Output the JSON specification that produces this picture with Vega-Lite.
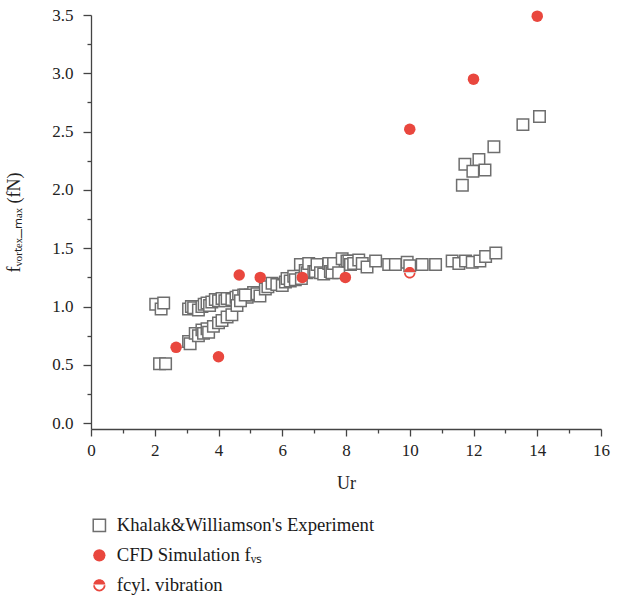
{
  "$schema": "https://vega.github.io/schema/vega-lite/v6.json",
  "width": 510,
  "height": 414,
  "autosize": {"type": "none"},
  "padding": {"left": 91, "top": 15, "right": 23, "bottom": 172},
  "background": "white",
  "config": {
    "view": {"stroke": null},
    "font": "Liberation Serif",
    "axis": {
      "grid": false,
      "domainColor": "#444444",
      "tickColor": "#444444",
      "labelColor": "#222222",
      "titleColor": "#222222",
      "labelFont": "Liberation Serif",
      "titleFont": "Liberation Serif",
      "labelFontSize": 17,
      "titleFontSize": 18,
      "titleFontWeight": "normal",
      "domainWidth": 1.3,
      "tickWidth": 1.3
    },
    "legend": {
      "orient": "none",
      "legendX": -1,
      "legendY": 501,
      "padding": 0,
      "labelFont": "Liberation Serif",
      "labelFontSize": 18.7,
      "labelColor": "#1a1a1a",
      "labelLimit": 400,
      "symbolSize": 150,
      "rowPadding": 10,
      "labelOffset": 8,
      "symbolStrokeWidth": 1.5
    }
  },
  "data": {
    "values": [
      {"x": 2.03, "y": 1.02, "s": "Khalak&Williamson's Experiment"},
      {"x": 2.2, "y": 0.98, "s": "Khalak&Williamson's Experiment"},
      {"x": 2.28, "y": 1.03, "s": "Khalak&Williamson's Experiment"},
      {"x": 2.15, "y": 0.51, "s": "Khalak&Williamson's Experiment"},
      {"x": 2.34, "y": 0.51, "s": "Khalak&Williamson's Experiment"},
      {"x": 3.06, "y": 0.98, "s": "Khalak&Williamson's Experiment"},
      {"x": 3.15, "y": 1.0, "s": "Khalak&Williamson's Experiment"},
      {"x": 3.22, "y": 0.99, "s": "Khalak&Williamson's Experiment"},
      {"x": 3.37, "y": 0.97, "s": "Khalak&Williamson's Experiment"},
      {"x": 3.48, "y": 1.0, "s": "Khalak&Williamson's Experiment"},
      {"x": 3.55, "y": 1.02, "s": "Khalak&Williamson's Experiment"},
      {"x": 3.64, "y": 1.03, "s": "Khalak&Williamson's Experiment"},
      {"x": 3.72, "y": 1.01, "s": "Khalak&Williamson's Experiment"},
      {"x": 3.79, "y": 1.04, "s": "Khalak&Williamson's Experiment"},
      {"x": 3.9, "y": 1.06, "s": "Khalak&Williamson's Experiment"},
      {"x": 4.0, "y": 1.05, "s": "Khalak&Williamson's Experiment"},
      {"x": 4.11, "y": 1.07, "s": "Khalak&Williamson's Experiment"},
      {"x": 4.2, "y": 1.05, "s": "Khalak&Williamson's Experiment"},
      {"x": 4.27, "y": 1.07, "s": "Khalak&Williamson's Experiment"},
      {"x": 4.42, "y": 1.06, "s": "Khalak&Williamson's Experiment"},
      {"x": 4.55, "y": 1.08, "s": "Khalak&Williamson's Experiment"},
      {"x": 4.63, "y": 1.09, "s": "Khalak&Williamson's Experiment"},
      {"x": 4.79, "y": 1.1, "s": "Khalak&Williamson's Experiment"},
      {"x": 4.9, "y": 1.08, "s": "Khalak&Williamson's Experiment"},
      {"x": 5.0, "y": 1.1, "s": "Khalak&Williamson's Experiment"},
      {"x": 5.1, "y": 1.12, "s": "Khalak&Williamson's Experiment"},
      {"x": 5.21, "y": 1.11, "s": "Khalak&Williamson's Experiment"},
      {"x": 5.3, "y": 1.09, "s": "Khalak&Williamson's Experiment"},
      {"x": 5.47, "y": 1.15, "s": "Khalak&Williamson's Experiment"},
      {"x": 5.55, "y": 1.17, "s": "Khalak&Williamson's Experiment"},
      {"x": 5.68, "y": 1.2, "s": "Khalak&Williamson's Experiment"},
      {"x": 5.83, "y": 1.19, "s": "Khalak&Williamson's Experiment"},
      {"x": 6.0, "y": 1.18, "s": "Khalak&Williamson's Experiment"},
      {"x": 6.1, "y": 1.21, "s": "Khalak&Williamson's Experiment"},
      {"x": 6.15, "y": 1.24, "s": "Khalak&Williamson's Experiment"},
      {"x": 6.25, "y": 1.22, "s": "Khalak&Williamson's Experiment"},
      {"x": 6.36, "y": 1.26, "s": "Khalak&Williamson's Experiment"},
      {"x": 6.41, "y": 1.23, "s": "Khalak&Williamson's Experiment"},
      {"x": 6.57, "y": 1.36, "s": "Khalak&Williamson's Experiment"},
      {"x": 6.6, "y": 1.24, "s": "Khalak&Williamson's Experiment"},
      {"x": 6.72, "y": 1.31, "s": "Khalak&Williamson's Experiment"},
      {"x": 6.78, "y": 1.29, "s": "Khalak&Williamson's Experiment"},
      {"x": 6.83, "y": 1.37, "s": "Khalak&Williamson's Experiment"},
      {"x": 6.99, "y": 1.3, "s": "Khalak&Williamson's Experiment"},
      {"x": 7.04, "y": 1.3, "s": "Khalak&Williamson's Experiment"},
      {"x": 7.09, "y": 1.36, "s": "Khalak&Williamson's Experiment"},
      {"x": 7.2, "y": 1.29, "s": "Khalak&Williamson's Experiment"},
      {"x": 7.3, "y": 1.28, "s": "Khalak&Williamson's Experiment"},
      {"x": 7.46, "y": 1.37, "s": "Khalak&Williamson's Experiment"},
      {"x": 7.51, "y": 1.3, "s": "Khalak&Williamson's Experiment"},
      {"x": 7.56, "y": 1.29, "s": "Khalak&Williamson's Experiment"},
      {"x": 7.61, "y": 1.37, "s": "Khalak&Williamson's Experiment"},
      {"x": 7.77, "y": 1.29, "s": "Khalak&Williamson's Experiment"},
      {"x": 7.88, "y": 1.41, "s": "Khalak&Williamson's Experiment"},
      {"x": 8.03, "y": 1.39, "s": "Khalak&Williamson's Experiment"},
      {"x": 8.09, "y": 1.39, "s": "Khalak&Williamson's Experiment"},
      {"x": 8.14, "y": 1.36, "s": "Khalak&Williamson's Experiment"},
      {"x": 8.24, "y": 1.37, "s": "Khalak&Williamson's Experiment"},
      {"x": 8.4, "y": 1.4, "s": "Khalak&Williamson's Experiment"},
      {"x": 8.51, "y": 1.37, "s": "Khalak&Williamson's Experiment"},
      {"x": 8.66, "y": 1.34, "s": "Khalak&Williamson's Experiment"},
      {"x": 8.93, "y": 1.39, "s": "Khalak&Williamson's Experiment"},
      {"x": 9.34, "y": 1.36, "s": "Khalak&Williamson's Experiment"},
      {"x": 9.55, "y": 1.36, "s": "Khalak&Williamson's Experiment"},
      {"x": 9.92, "y": 1.38, "s": "Khalak&Williamson's Experiment"},
      {"x": 10.0, "y": 1.35, "s": "Khalak&Williamson's Experiment"},
      {"x": 10.39, "y": 1.36, "s": "Khalak&Williamson's Experiment"},
      {"x": 10.81, "y": 1.36, "s": "Khalak&Williamson's Experiment"},
      {"x": 11.33, "y": 1.39, "s": "Khalak&Williamson's Experiment"},
      {"x": 11.54, "y": 1.37, "s": "Khalak&Williamson's Experiment"},
      {"x": 11.75, "y": 1.39, "s": "Khalak&Williamson's Experiment"},
      {"x": 11.96, "y": 1.38, "s": "Khalak&Williamson's Experiment"},
      {"x": 12.2, "y": 1.39, "s": "Khalak&Williamson's Experiment"},
      {"x": 12.38, "y": 1.43, "s": "Khalak&Williamson's Experiment"},
      {"x": 12.7, "y": 1.46, "s": "Khalak&Williamson's Experiment"},
      {"x": 3.06, "y": 0.7, "s": "Khalak&Williamson's Experiment"},
      {"x": 3.11, "y": 0.68, "s": "Khalak&Williamson's Experiment"},
      {"x": 3.27, "y": 0.77, "s": "Khalak&Williamson's Experiment"},
      {"x": 3.37, "y": 0.75, "s": "Khalak&Williamson's Experiment"},
      {"x": 3.48, "y": 0.8, "s": "Khalak&Williamson's Experiment"},
      {"x": 3.53, "y": 0.77, "s": "Khalak&Williamson's Experiment"},
      {"x": 3.64, "y": 0.81, "s": "Khalak&Williamson's Experiment"},
      {"x": 3.69, "y": 0.78, "s": "Khalak&Williamson's Experiment"},
      {"x": 3.84, "y": 0.83, "s": "Khalak&Williamson's Experiment"},
      {"x": 4.0, "y": 0.86, "s": "Khalak&Williamson's Experiment"},
      {"x": 4.11, "y": 0.88, "s": "Khalak&Williamson's Experiment"},
      {"x": 4.27, "y": 0.91, "s": "Khalak&Williamson's Experiment"},
      {"x": 4.42, "y": 0.93, "s": "Khalak&Williamson's Experiment"},
      {"x": 4.58, "y": 1.01, "s": "Khalak&Williamson's Experiment"},
      {"x": 4.69, "y": 1.05, "s": "Khalak&Williamson's Experiment"},
      {"x": 4.84, "y": 1.1, "s": "Khalak&Williamson's Experiment"},
      {"x": 11.65, "y": 2.04, "s": "Khalak&Williamson's Experiment"},
      {"x": 11.73, "y": 2.22, "s": "Khalak&Williamson's Experiment"},
      {"x": 11.98, "y": 2.16, "s": "Khalak&Williamson's Experiment"},
      {"x": 12.17, "y": 2.26, "s": "Khalak&Williamson's Experiment"},
      {"x": 12.36, "y": 2.17, "s": "Khalak&Williamson's Experiment"},
      {"x": 12.64, "y": 2.37, "s": "Khalak&Williamson's Experiment"},
      {"x": 13.55, "y": 2.56, "s": "Khalak&Williamson's Experiment"},
      {"x": 14.07, "y": 2.63, "s": "Khalak&Williamson's Experiment"},
      {"x": 2.67, "y": 0.65, "s": "CFD Simulation fᵥₛ"},
      {"x": 4.0, "y": 0.57, "s": "CFD Simulation fᵥₛ"},
      {"x": 4.65, "y": 1.27, "s": "CFD Simulation fᵥₛ"},
      {"x": 5.31, "y": 1.25, "s": "CFD Simulation fᵥₛ"},
      {"x": 6.63, "y": 1.25, "s": "CFD Simulation fᵥₛ"},
      {"x": 7.98, "y": 1.25, "s": "CFD Simulation fᵥₛ"},
      {"x": 10.0, "y": 2.52, "s": "CFD Simulation fᵥₛ"},
      {"x": 12.0, "y": 2.95, "s": "CFD Simulation fᵥₛ"},
      {"x": 14.0, "y": 3.49, "s": "CFD Simulation fᵥₛ"},
      {"x": 10.0, "y": 1.29, "s": "fcyl. vibration"}
    ]
  },
  "mark": {"type": "point", "size": 132, "strokeWidth": 1.5, "opacity": 1, "fillOpacity": 1},
  "encoding": {
    "x": {
      "field": "x",
      "type": "quantitative",
      "scale": {"domain": [0, 16], "nice": false, "zero": false},
      "axis": {
        "title": "Ur",
        "values": [0, 1, 2, 3, 4, 5, 6, 7, 8, 9, 10, 11, 12, 13, 14, 15, 16],
        "labelExpr": "datum.value % 2 == 0 ? datum.label : ''",
        "tickSize": {"condition": {"test": "datum.value % 2 == 0", "value": 7}, "value": 4},
        "labelPadding": 6,
        "titlePadding": 16,
        "labelFlush": false,
        "labelOverlap": false
      }
    },
    "y": {
      "field": "y",
      "type": "quantitative",
      "scale": {"domain": [-0.05, 3.5], "nice": false, "zero": false},
      "axis": {
        "title": "fᵥₒᵣₜₑₓ_ₘₐₓ (fN)",
        "values": [0, 0.25, 0.5, 0.75, 1, 1.25, 1.5, 1.75, 2, 2.25, 2.5, 2.75, 3, 3.25, 3.5],
        "labelExpr": "(datum.value * 2) % 1 == 0 ? format(datum.value, '.1f') : ''",
        "tickSize": {"condition": {"test": "(datum.value * 2) % 1 == 0", "value": 8}, "value": 4},
        "labelPadding": 10,
        "titlePadding": 28,
        "labelFlush": false,
        "labelOverlap": false
      }
    },
    "shape": {
      "field": "s",
      "type": "nominal",
      "scale": {
        "domain": ["Khalak&Williamson's Experiment", "CFD Simulation fᵥₛ", "fcyl. vibration"],
        "range": ["square", "circle", "M-0.99,-0.14A1,1,0,0,1,0.99,-0.14Z M1,0A1,1,0,0,1,-1,0L-0.72,0A0.72,0.72,0,0,0,0.72,0Z"]
      },
      "legend": {"title": null}
    },
    "fill": {
      "field": "s",
      "type": "nominal",
      "scale": {
        "domain": ["Khalak&Williamson's Experiment", "CFD Simulation fᵥₛ", "fcyl. vibration"],
        "range": ["#ffffff", "#e9473e", "#e9473e"]
      },
      "legend": {"title": null}
    },
    "stroke": {
      "field": "s",
      "type": "nominal",
      "scale": {
        "domain": ["Khalak&Williamson's Experiment", "CFD Simulation fᵥₛ", "fcyl. vibration"],
        "range": ["#6e6e6e", "transparent", "transparent"]
      },
      "legend": {"title": null}
    }
  }
}
